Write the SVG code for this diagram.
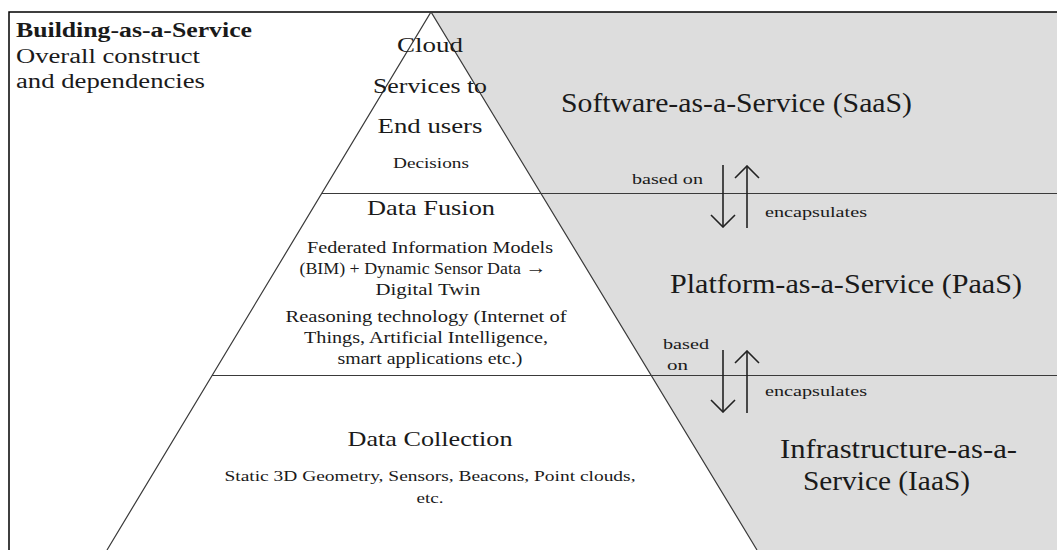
<svg xmlns="http://www.w3.org/2000/svg" width="1057" height="550" viewBox="0 0 1057 550" font-family="Liberation Serif, serif">
<style>
text{font-family:'Liberation Serif',serif;fill:#1a1a1a;}
.big{font-size:28px;}
.mid{font-size:21px;}
.sm{font-size:16px;}
.lbl{font-size:15px;}
.ttl{font-size:20px;}
.c{text-anchor:middle;}
.ln{stroke:#3a3a3a;stroke-width:1.2;fill:none;}
.arr{stroke:#222;stroke-width:1.6;fill:none;}
</style>
<defs>
<marker id="v" viewBox="-1 -1 14 26" refX="12" refY="12" markerWidth="14" markerHeight="26" markerUnits="userSpaceOnUse" orient="auto">
<path d="M0,0 L12,12 L0,24" fill="none" stroke="#222" stroke-width="1.6"/>
</marker>
</defs>
<rect width="1057" height="550" fill="#fff"/>
<g id="frame">
<polygon points="431,12 1057,12 1057,550 757,550" fill="#dddddd"/>
<path d="M9,550 L9,12 L1057,12" stroke="#000" stroke-width="1.5" fill="none"/>
</g>
<g id="pyramid">
<path class="ln" d="M107,550 L431,12 L757,550"/>
<path class="ln" d="M322,193.5 L1057,193.5"/>
<path class="ln" d="M212,375.5 L1057,375.5"/>
</g>
<g id="title">
<text x="16" y="37" class="ttl" font-weight="bold" textLength="236" lengthAdjust="spacingAndGlyphs">Building-as-a-Service</text>
<text x="16" y="63" class="ttl" textLength="184" lengthAdjust="spacingAndGlyphs">Overall construct</text>
<text x="16" y="88" class="ttl" textLength="189" lengthAdjust="spacingAndGlyphs">and dependencies</text>
</g>
<g id="node-cloud">
<text x="430" y="52" class="mid c" textLength="66" lengthAdjust="spacingAndGlyphs">Cloud</text>
<text x="430" y="93" class="mid c" textLength="114" lengthAdjust="spacingAndGlyphs">Services to</text>
<text x="430" y="133" class="mid c" textLength="105" lengthAdjust="spacingAndGlyphs">End users</text>
<text x="431" y="168" class="lbl c" textLength="76" lengthAdjust="spacingAndGlyphs">Decisions</text>
</g>
<g id="node-fusion">
<text x="431" y="215" class="mid c" textLength="128" lengthAdjust="spacingAndGlyphs">Data Fusion</text>
<text x="430" y="253" class="sm c" textLength="246" lengthAdjust="spacingAndGlyphs">Federated Information Models</text>
<text x="423" y="274" class="sm c" textLength="247" lengthAdjust="spacingAndGlyphs">(BIM) + Dynamic Sensor Data <tspan font-weight="bold" font-size="19">→</tspan></text>
<text x="428" y="295" class="sm c" textLength="105" lengthAdjust="spacingAndGlyphs">Digital Twin</text>
<text x="426" y="322" class="sm c" textLength="281" lengthAdjust="spacingAndGlyphs">Reasoning technology (Internet of</text>
<text x="426" y="343" class="sm c" textLength="244" lengthAdjust="spacingAndGlyphs">Things, Artificial Intelligence,</text>
<text x="430" y="364" class="sm c" textLength="185" lengthAdjust="spacingAndGlyphs">smart applications etc.)</text>
</g>
<g id="node-collection">
<text x="430" y="446" class="mid c" textLength="165" lengthAdjust="spacingAndGlyphs">Data Collection</text>
<text x="430" y="481" class="lbl c" textLength="411" lengthAdjust="spacingAndGlyphs">Static 3D Geometry, Sensors, Beacons, Point clouds,</text>
<text x="430" y="503" class="lbl c" textLength="27" lengthAdjust="spacingAndGlyphs">etc.</text>
</g>
<g id="node-saas">
<text x="561" y="112" class="big" textLength="351" lengthAdjust="spacingAndGlyphs">Software-as-a-Service (SaaS)</text>
</g>
<g id="node-paas">
<text x="670" y="293" class="big" textLength="352" lengthAdjust="spacingAndGlyphs">Platform-as-a-Service (PaaS)</text>
</g>
<g id="node-iaas">
<text x="780" y="458" class="big" textLength="237" lengthAdjust="spacingAndGlyphs">Infrastructure-as-a-</text>
<text x="803" y="490" class="big" textLength="167" lengthAdjust="spacingAndGlyphs">Service (IaaS)</text>
</g>
<g id="connectors">
<path class="arr" d="M723,165 L723,227" marker-end="url(#v)"/>
<path class="arr" d="M747,228 L747,166" marker-end="url(#v)"/>
<path class="arr" d="M723,350 L723,412" marker-end="url(#v)"/>
<path class="arr" d="M747,413 L747,351" marker-end="url(#v)"/>
<text x="632" y="184" class="lbl" textLength="71" lengthAdjust="spacingAndGlyphs">based on</text>
<text x="765" y="217" class="lbl" textLength="102" lengthAdjust="spacingAndGlyphs">encapsulates</text>
<text x="663" y="349" class="lbl" textLength="46" lengthAdjust="spacingAndGlyphs">based</text>
<text x="667" y="370" class="lbl" textLength="21" lengthAdjust="spacingAndGlyphs">on</text>
<text x="765" y="396" class="lbl" textLength="102" lengthAdjust="spacingAndGlyphs">encapsulates</text>
</g>
</svg>
